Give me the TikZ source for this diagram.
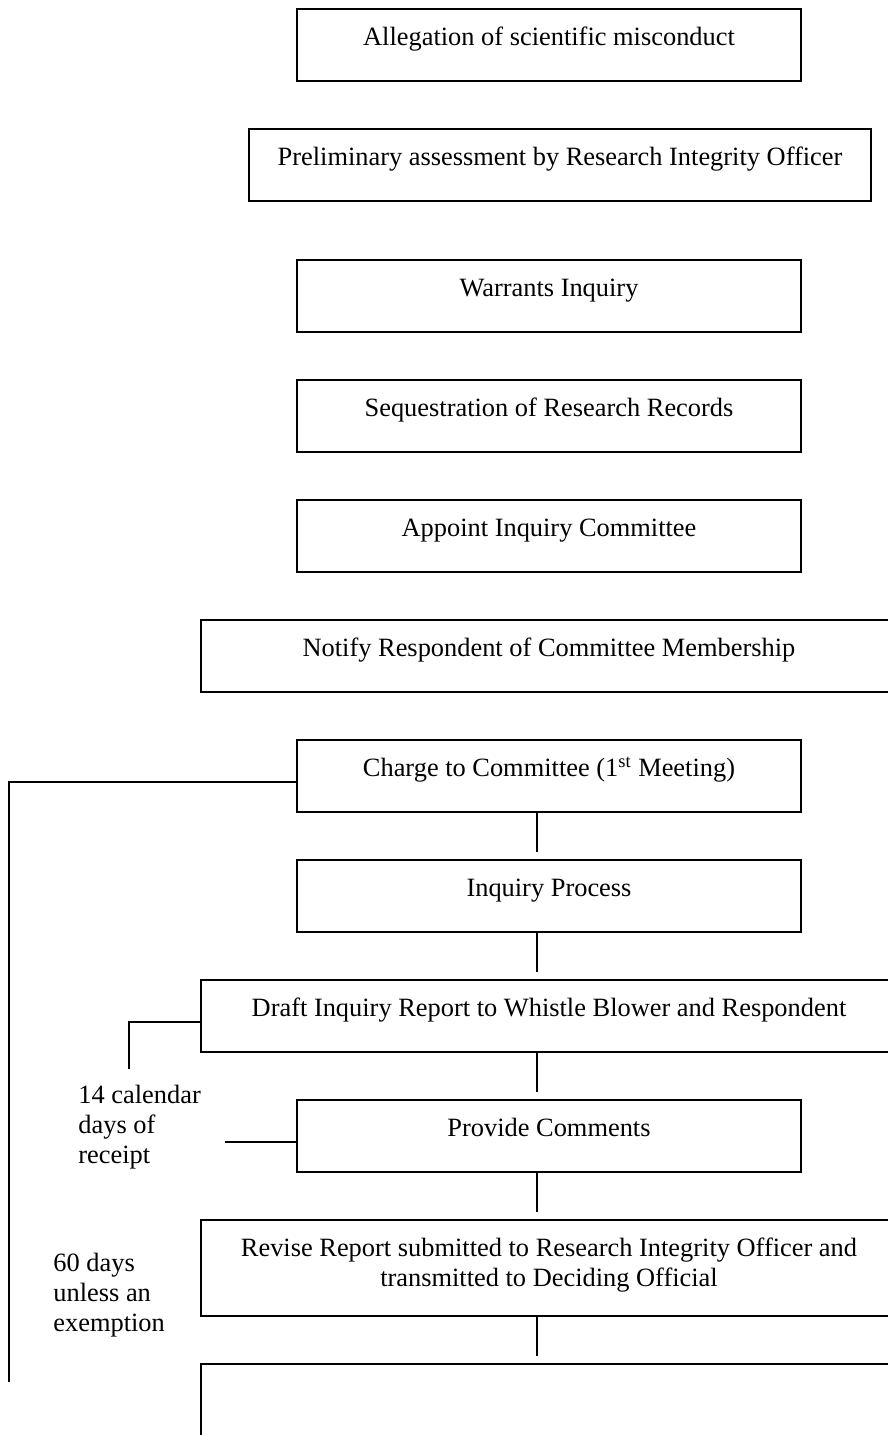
\documentclass[tikz,border=0pt]{standalone}
\usepackage{fontspec}
\setmainfont{Liberation Serif}
\begin{document}
\begin{tikzpicture}[x=0.5pt,y=-0.5pt,
  box/.style={draw, line width=0.7pt, rectangle, inner sep=0pt},
  nbox/.style={box, minimum width=252pt, minimum height=36pt},
  wbox/.style={box, minimum width=348pt, minimum height=36pt},
  txt/.style={inner sep=0pt, anchor=base, font=\fontsize{13.2}{15}\selectfont},
  note/.style={inner sep=0pt, anchor=base west, font=\fontsize{13.2}{15}\selectfont},
  conn/.style={line width=0.7pt}]
\clip (0,0) rectangle (888,1435);
\fill[white] (0,0) rectangle (888,1435);
% boxes
\node[nbox] (alleg) at (549,45) {};
\node[box, minimum width=311pt, minimum height=36pt] (prelim) at (560,165) {};
\node[nbox] (warr) at (549,296) {};
\node[nbox] (seq) at (549,416) {};
\node[nbox] (appt) at (549,536) {};
\node[wbox] (notify) at (549,656) {};
\node[nbox] (charge) at (549,776) {};
\node[nbox] (inq) at (549,896) {};
\node[wbox] (draft) at (549,1016) {};
\node[nbox] (prov) at (549,1136) {};
\node[box, minimum width=348pt, minimum height=48pt] (rev) at (549,1268) {};
\node[box, minimum width=348pt, minimum height=58pt] (last) at (549,1422) {};
% texts
\node[txt] (allegT) at ([yshift=-18.5pt]alleg.north) {Allegation of scientific misconduct};
\node[txt] (prelimT) at ([yshift=-18.5pt]prelim.north) {Preliminary assessment by Research Integrity Officer};
\node[txt] (warrT) at ([yshift=-18.5pt]warr.north) {Warrants Inquiry};
\node[txt] (seqT) at ([yshift=-18.5pt]seq.north) {Sequestration of Research Records};
\node[txt] (apptT) at ([yshift=-18.5pt]appt.north) {Appoint Inquiry Committee};
\node[txt] (notifyT) at ([yshift=-18.5pt]notify.north) {Notify Respondent of Committee Membership};
\node[txt] (chargeT) at ([yshift=-18.5pt]charge.north) {Charge to Committee (1\textsuperscript{st} Meeting)};
\node[txt] (inqT) at ([yshift=-18.5pt]inq.north) {Inquiry Process};
\node[txt] (draftT) at ([yshift=-18.5pt]draft.north) {Draft Inquiry Report to Whistle Blower and Respondent};
\node[txt] (provT) at ([yshift=-18.5pt]prov.north) {Provide Comments};
\node[txt] (revT) at ([yshift=-18.5pt]rev.north) {\parbox[t]{330pt}{\centering Revise Report submitted to Research Integrity Officer and\\ transmitted to Deciding Official}};
% notes
\node[note] (n14) at (78,1103) {\parbox[t]{80pt}{\raggedright 14 calendar\\ days of\\ receipt}};
\node[note] (n60) at (53,1271) {\parbox[t]{80pt}{\raggedright 60 days\\ unless an\\ exemption}};
% connectors
\draw[conn] ([xshift=-6pt]charge.south) -- ([xshift=-6pt,yshift=3.5pt]inq.north);
\draw[conn] ([xshift=-6pt]inq.south) -- ([xshift=-6pt,yshift=3.5pt]draft.north);
\draw[conn] ([xshift=-6pt]draft.south) -- ([xshift=-6pt,yshift=3.5pt]prov.north);
\draw[conn] ([xshift=-6pt]prov.south) -- ([xshift=-6pt,yshift=3.5pt]rev.north);
\draw[conn] ([xshift=-6pt]rev.south) -- ([xshift=-6pt,yshift=3.5pt]last.north);
\coordinate (lend) at (9,1382);
\coordinate (dend) at (129,1069);
\coordinate (pend) at (225,1142);
\draw[conn] ([yshift=-3pt]charge.west) -| (lend);
\draw[conn] ([yshift=-3pt]draft.west) -| (dend);
\draw[conn] ([yshift=-3pt]prov.west) -- (pend);
\end{tikzpicture}
\end{document}
